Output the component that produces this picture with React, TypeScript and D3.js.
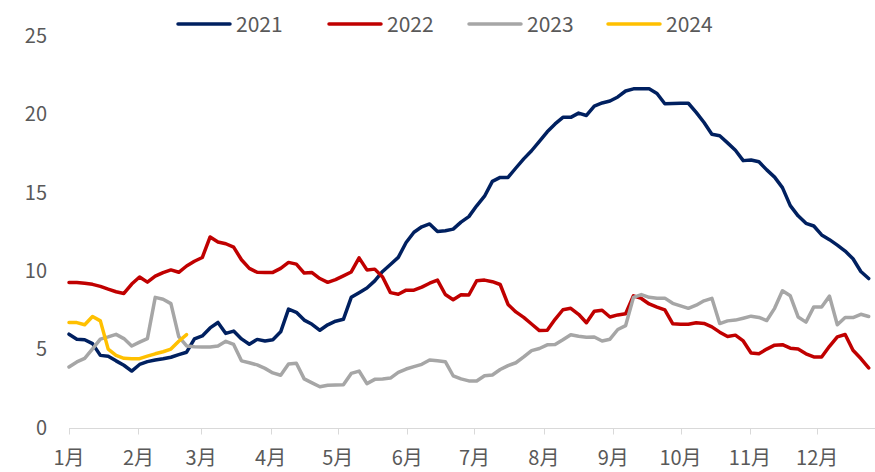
import React from "react";
import * as d3 from "d3";

// half-week sample points, day of year
const days = d3.range(103).map((i) => i * 3.5);

const monthStarts = [0, 31, 59, 90, 120, 151, 181, 212, 243, 273, 304, 334];
const monthLabels = ["1月", "2月", "3月", "4月", "5月", "6月", "7月", "8月", "9月", "10月", "11月", "12月"];
const yTicks = [0, 5, 10, 15, 20, 25];

const s2021 = [
  5.95, 5.63, 5.6, 5.35, 4.6, 4.55, 4.25, 3.97, 3.6, 4.02,
  4.2, 4.3, 4.38, 4.48, 4.65, 4.8, 5.65, 5.84, 6.35, 6.7,
  6.0, 6.15, 5.65, 5.31, 5.62, 5.52, 5.6, 6.1, 7.55, 7.35,
  6.85, 6.58, 6.2, 6.55, 6.78, 6.9, 8.3, 8.6, 8.9, 9.35,
  9.95, 10.4, 10.85, 11.8, 12.45, 12.8, 12.98, 12.5, 12.55, 12.65,
  13.1, 13.45, 14.14, 14.75, 15.7, 15.95, 15.95, 16.55, 17.13, 17.65,
  18.25, 18.86, 19.36, 19.78, 19.78, 20.05, 19.9, 20.5, 20.7, 20.82,
  21.08, 21.46, 21.6, 21.6, 21.6, 21.3, 20.65, 20.66, 20.68, 20.68,
  20.1, 19.45, 18.7, 18.61, 18.15, 17.68, 17.02, 17.06, 16.95, 16.43,
  15.97, 15.3, 14.15, 13.5, 13.02, 12.85, 12.28, 11.98, 11.63, 11.25,
  10.76, 9.95, 9.5,
];

const s2022 = [
  9.25, 9.25, 9.2, 9.13, 9.0, 8.82, 8.66, 8.55, 9.15, 9.6,
  9.27, 9.65, 9.88, 10.05, 9.9, 10.3, 10.6, 10.84, 12.15, 11.83,
  11.72, 11.5, 10.7, 10.15, 9.9, 9.89, 9.89, 10.15, 10.53, 10.42,
  9.85, 9.88, 9.5, 9.26, 9.43, 9.67, 9.92, 10.82, 10.05, 10.1,
  9.6, 8.6, 8.5, 8.76, 8.76, 8.95, 9.2, 9.4, 8.48, 8.15,
  8.47, 8.45, 9.36, 9.4, 9.3, 9.12, 7.85, 7.37, 7.02, 6.6,
  6.18, 6.2, 6.9, 7.51, 7.6, 7.22, 6.68, 7.42, 7.48, 7.05,
  7.18, 7.25, 8.4, 8.23, 7.88, 7.68, 7.5, 6.62, 6.59, 6.59,
  6.68, 6.64, 6.42, 6.08, 5.8, 5.89, 5.52, 4.75, 4.71, 5.0,
  5.25, 5.28, 5.06, 5.0, 4.7, 4.5, 4.5, 5.18, 5.78, 5.93,
  4.93, 4.4, 3.8,
];

const s2023 = [
  3.86, 4.18, 4.41, 5.02, 5.64, 5.78, 5.94, 5.67, 5.2, 5.44,
  5.67, 8.3, 8.18, 7.9, 5.8, 5.2, 5.15, 5.14, 5.14, 5.2,
  5.5, 5.3, 4.25, 4.13, 3.99, 3.77, 3.48, 3.33, 4.05, 4.1,
  3.1, 2.85, 2.6, 2.7, 2.71, 2.72, 3.45, 3.6, 2.8, 3.07,
  3.1, 3.15, 3.52, 3.73, 3.88, 4.03, 4.3, 4.25, 4.2, 3.3,
  3.1, 2.97, 2.97, 3.3, 3.35, 3.7, 3.95, 4.13, 4.5, 4.9,
  5.04, 5.27, 5.3, 5.6, 5.92, 5.82, 5.75, 5.77, 5.52, 5.63,
  6.25, 6.5, 8.3, 8.48, 8.3, 8.25, 8.25, 7.92, 7.76, 7.6,
  7.8, 8.08, 8.24, 6.63, 6.8, 6.85, 6.97, 7.1, 7.02, 6.82,
  7.6, 8.72, 8.4, 7.05, 6.72, 7.69, 7.69, 8.38, 6.55, 7.01,
  7.01, 7.22, 7.08,
];

const s2024 = [
  6.69, 6.69, 6.55, 7.08, 6.8, 5.0, 4.6, 4.41, 4.39, 4.39,
  4.55, 4.7, 4.83, 5.0, 5.5, 5.92,
];

const seriesNames = ["2021", "2022", "2023", "2024"];
const seriesValues = [s2021, s2022, s2023, s2024];
const colors = ["#002060", "#C00000", "#A6A6A6", "#FFC000"];
const legendX = [178, 329, 469, 608];

const W = 875;
const H = 472;
const font = "'Noto Sans CJK SC', 'Noto Sans', sans-serif";
const textColor = "#595959";

export default function App() {
  const x = d3.scaleLinear().domain([0, 365]).range([69, 886.6]);
  const y = d3.scaleLinear().domain([0, 25]).range([427.5, 35.5]);
  const line = d3
    .line<number>()
    .x((_, i) => x(days[i]))
    .y((d) => y(d));

  const axisY = Math.round(y(0)) + 0.5;

  return (
    <svg
      width={W}
      height={H}
      style={{ position: "absolute", left: 0, top: 0, background: "#fff" }}
      fontFamily={font}
    >
      {/* x axis */}
      <line x1={x(0)} x2={W} y1={axisY} y2={axisY} stroke="#D9D9D9" strokeWidth={1} />
      {monthStarts.map((d, i) => (
        <g key={i}>
          <line
            x1={Math.round(x(d)) + 0.5}
            x2={Math.round(x(d)) + 0.5}
            y1={axisY}
            y2={axisY + 6}
            stroke="#D9D9D9"
          />
          <text x={x(d)} y={465} textAnchor="middle" fontSize={20} fill={textColor}>
            {monthLabels[i]}
          </text>
        </g>
      ))}

      {/* y labels */}
      {yTicks.map((t) => (
        <text
          key={t}
          x={47}
          y={y(t)}
          dy="0.36em"
          textAnchor="end"
          fontSize={20}
          fill={textColor}
        >
          {t}
        </text>
      ))}

      {/* lines */}
      {seriesValues.map((vals, k) => (
        <path
          key={seriesNames[k]}
          d={line(vals) || ""}
          fill="none"
          stroke={colors[k]}
          strokeWidth={3.5}
          strokeLinejoin="round"
          strokeLinecap="round"
        />
      ))}

      {/* legend */}
      {seriesNames.map((name, k) => (
        <g key={name} transform={`translate(${legendX[k]},24)`}>
          <line x1={0} x2={52} y1={0} y2={0} stroke={colors[k]} strokeWidth={3.5} strokeLinecap="round" />
          <text x={58} y={0} dy="0.36em" fontSize={21} fill={textColor}>
            {name}
          </text>
        </g>
      ))}
    </svg>
  );
}
